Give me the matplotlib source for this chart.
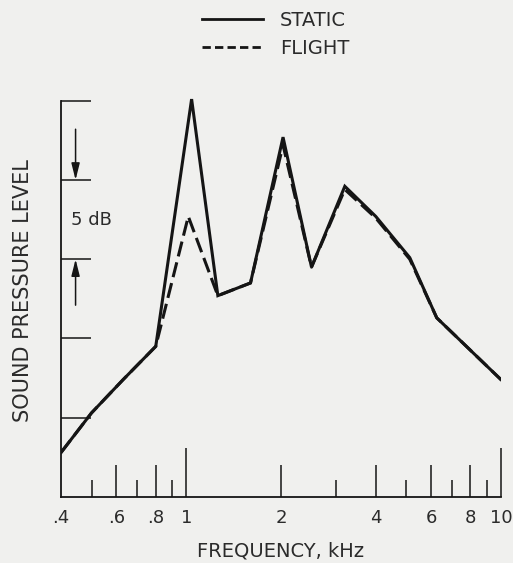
import matplotlib
matplotlib.use("Agg")
import matplotlib.pyplot as plt
from matplotlib.lines import Line2D
from matplotlib.ticker import FixedLocator, FixedFormatter, NullFormatter

# Frequency (kHz) and relative sound pressure level (dB)
static_freq = [0.40, 0.50, 0.63, 0.80, 1.04, 1.26, 1.60, 2.03, 2.50, 3.19, 4.00, 5.13, 6.25, 10.0]
static_spl = [-2.2, 0.3, 2.4, 4.5, 20.1, 7.7, 8.5, 17.7, 9.5, 14.6, 12.7, 10.1, 6.3, 2.4]

flight_freq = [0.40, 0.50, 0.63, 0.80, 1.015, 1.26, 1.60, 2.03, 2.50, 3.19, 4.00, 5.13, 6.25, 10.0]
flight_spl = [-2.2, 0.3, 2.4, 4.5, 12.7, 7.7, 8.5, 17.2, 9.5, 14.4, 12.6, 10.0, 6.3, 2.4]

major_ticks = [0.4, 0.6, 0.8, 1, 2, 4, 6, 8, 10]
major_labels = [".4", ".6", ".8", "1", "2", "4", "6", "8", "10"]
minor_ticks = [0.5, 0.7, 0.9, 3, 5, 7, 9]
level_ticks = [0, 5, 10, 15, 20]

BG = "#f0f0ee"
INK = "#151515"
TXT = "#2b2b2b"

plt.rcParams["font.family"] = ["DejaVu Sans"]

W, H = 513, 563
fig = plt.figure(figsize=(W / 100, H / 100), dpi=100, facecolor=BG)

x0, x1 = 61, 501
y_bot, y_top = 496.95, 84.85
ax = fig.add_axes([x0 / W, (H - y_bot) / H, (x1 - x0) / W, (y_bot - y_top) / H])
ax.set_facecolor(BG)

ax.plot(static_freq, static_spl, color=INK, lw=2.2, solid_joinstyle="miter",
        label="STATIC", zorder=3)
ax.plot(flight_freq, flight_spl, color=INK, lw=2.2, dashes=(5, 2),
        label="FLIGHT", zorder=3)

ax.set_xscale("log")
ax.set_xlim(0.4, 10)
ax.set_ylim(-5, 21)

for s in ("top", "right"):
    ax.spines[s].set_visible(False)
ax.spines["left"].set_bounds(-5, 20)
ax.spines["left"].set_linewidth(1.3)
ax.spines["bottom"].set_linewidth(1.3)
ax.spines["left"].set_color(INK)
ax.spines["bottom"].set_color(INK)

ax.xaxis.set_major_locator(FixedLocator(major_ticks))
ax.xaxis.set_major_formatter(FixedFormatter(major_labels))
ax.xaxis.set_minor_locator(FixedLocator(minor_ticks))
ax.xaxis.set_minor_formatter(NullFormatter())
ax.tick_params(axis="x", which="major", direction="in", length=23, width=1.1,
               color=INK, labelsize=13, labelcolor=TXT, pad=9)
ax.tick_params(axis="x", which="minor", direction="in", length=12, width=1.1,
               color=INK)

# decade marks are drawn longer; the .4 mark coincides with the vertical axis
for t, v in zip(ax.xaxis.get_major_ticks(len(major_ticks)), major_ticks):
    if v in (1, 10):
        t.tick1line.set_markersize(35)
    elif v == 0.4:
        t.tick1line.set_markersize(0)

ax.set_yticks(level_ticks)
ax.set_yticklabels([])
ax.tick_params(axis="y", direction="in", length=21.5, width=1.1, color=INK)

ax.set_xlabel("FREQUENCY, kHz", fontsize=14, color=TXT, labelpad=10)
ax.set_ylabel("SOUND PRESSURE LEVEL", fontsize=15, color=TXT, labelpad=17)

# 5 dB scale indicator
arrow_x = 0.445
ax.annotate("", xy=(arrow_x, 15), xytext=(arrow_x, 18.2),
            arrowprops=dict(arrowstyle="-|>,head_length=1.0,head_width=0.25",
                            color=INK, lw=1.1, shrinkA=0, shrinkB=0))
ax.annotate("", xy=(arrow_x, 10), xytext=(arrow_x, 7.1),
            arrowprops=dict(arrowstyle="-|>,head_length=1.0,head_width=0.25",
                            color=INK, lw=1.1, shrinkA=0, shrinkB=0))
ax.text(0.50, 12.5, "5 dB", fontsize=13, color=TXT, ha="center", va="center")

handles = [Line2D([], [], color=INK, lw=2.0),
           Line2D([], [], color=INK, lw=2.0, dashes=(3.0, 1.5))]
fig.legend(handles, ["STATIC", "FLIGHT"], loc="upper left",
           bbox_to_anchor=(202 / W, 1 - 11 / H), frameon=False, fontsize=14,
           handlelength=3.15, handletextpad=0.85, labelspacing=0.45,
           borderpad=0, borderaxespad=0, labelcolor=TXT)

fig.savefig("out.png", dpi=100, facecolor=BG)
